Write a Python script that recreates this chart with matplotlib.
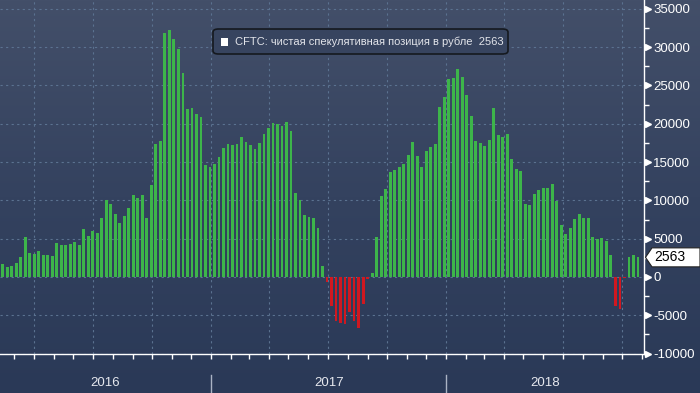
import matplotlib
matplotlib.use('Agg')
import matplotlib.pyplot as plt
import matplotlib.dates as mdates
import matplotlib.transforms as mtrans
from matplotlib.colors import LinearSegmentedColormap
from matplotlib.patches import FancyBboxPatch, Polygon, Rectangle
import numpy as np
import pandas as pd

plt.rcParams['axes.unicode_minus'] = False

# ---- data (thousands of contracts, weekly) ----
values_k = [
    1.7, 1.3, 1.4, 1.8, 2.6, 5.2, 3.1, 3.0, 3.4, 2.9, 2.9, 2.7, 4.4, 4.2, 4.2, 4.3, 4.6, 4.2, 6.3, 5.3,
    6.0, 5.7, 7.7, 10.0, 9.5, 8.2, 7.0, 8.0, 9.0,
    10.7, 10.3, 10.7, 7.7, 12.0, 17.4, 17.7, 31.9, 32.3, 31.1, 29.7, 26.6, 21.9, 22.0, 21.3, 20.9,
    14.6, 14.3, 14.7, 15.7, 16.8, 17.4, 17.2, 17.4, 18.3, 17.6, 17.2, 16.7,
    17.5, 18.7, 19.4, 20.1, 20.0, 19.7, 20.2, 19.0, 11.0, 10.0, 8.1, 7.8, 7.7, 6.4, 1.4,
    -0.6, -3.8, -5.8, -6.0, -6.2, -4.6, -5.7, -6.7, -3.5, -0.2,
    0.5, 5.2, 10.6, 11.5,
    13.7, 14.0, 14.3, 14.7, 15.9, 17.6, 15.8, 14.3, 16.4, 17.0, 17.3, 22.2, 23.5, 25.8, 26.0, 27.1,
    26.1, 23.7, 21.0, 17.7, 17.5, 17.1, 17.9, 22.0, 18.5, 18.3, 18.7, 15.4,
    14.1, 13.8, 9.5, 9.4, 10.8, 11.3, 11.6, 11.6, 12.1, 9.9, 6.8, 5.6, 6.4, 7.6, 8.2, 7.7, 7.7,
    5.2, 5.0, 5.1, 4.7, 2.9, -3.8, -4.2, -0.1, 2.6, 2.9, 2.563,
]
values = np.array(values_k) * 1000
first_date = '2016-02-12'
dates = pd.date_range(first_date, periods=len(values), freq='7D')
years = [2016, 2017, 2018]
yticks = list(range(-10000, 35001, 5000))
legend_label = 'CFTC: чистая спекулятивная позиция в рубле  2563'
last_value = 2563

# ---- style ----
GREEN = '#3db54a'
RED = '#d01820'
GRID = '#5b7290'
FONT = 'Liberation Sans'

W, H = 700, 393
fig = plt.figure(figsize=(W / 100, H / 100), dpi=100)

# background gradient
bg = fig.add_axes([0, 0, 1, 1])
bg.axis('off')
grad = np.linspace(0, 1, 256).reshape(-1, 1)
cmap = LinearSegmentedColormap.from_list('bg', ['#434f69', '#34425f', '#2a3957'])
bg.imshow(grad, aspect='auto', cmap=cmap, extent=[0, 1, 0, 1], origin='upper')
bg.set_xlim(0, 1)
bg.set_ylim(0, 1)

ax_bottom_px = 353.6
ax_right_px = 644
ax = fig.add_axes([0, (H - ax_bottom_px) / H, ax_right_px / W, ax_bottom_px / H])
ax.patch.set_alpha(0)

xnum = mdates.date2num(dates)
step = 7.0
x0 = xnum[0] - 0.6 * step
x1 = xnum[0] + 142.35 * step
ax.set_xlim(x0, x1)
ax.set_ylim(-10000, 36160)

colors = [GREEN if v >= 0 else RED for v in values]
ax.bar(xnum, values, width=0.62 * step, color=colors, linewidth=0, zorder=3)

# grid
ax.set_yticks(yticks)
ax.yaxis.grid(True, color=GRID, linestyle=(0, (2, 3)), linewidth=0.8, zorder=1)
qstarts = pd.date_range('2016-01-01', '2019-01-01', freq='QS')
for q in qstarts:
    qn = mdates.date2num(q)
    if x0 < qn < x1:
        ax.axvline(qn, color=GRID, linestyle=(0, (2, 3)), linewidth=0.8, zorder=1)

# spines
for s in ['top', 'left']:
    ax.spines[s].set_visible(False)
ax.spines['right'].set_color('white')
ax.spines['bottom'].set_color('white')
ax.spines['right'].set_linewidth(1)
ax.spines['bottom'].set_linewidth(1)

# x ticks: monthly marks, no labels
ax.xaxis.set_major_locator(mdates.MonthLocator())
ax.tick_params(axis='x', which='major', direction='out', length=3.5, width=1,
               color='white', labelbottom=False)

# y ticks on right
ax.yaxis.tick_right()
ax.set_yticks(np.arange(-7500, 36000, 5000), minor=True)
ax.tick_params(axis='y', which='major', length=0, pad=6.5, labelcolor='white',
               labelsize=9.5)
ax.tick_params(axis='y', which='minor', direction='out', length=3.5, width=1,
               color='white')
for lbl in ax.get_yticklabels():
    lbl.set_fontfamily(FONT)
ytr = ax.get_yaxis_transform()
ax.plot([1.0065] * len(yticks), yticks, linestyle='none', marker='>', ms=5,
        color='white', transform=ytr, clip_on=False, zorder=5)

# year labels and separators
xtr = ax.get_xaxis_transform()
for y in years:
    a = max(mdates.date2num(pd.Timestamp(f'{y}-01-01')), x0)
    b = min(mdates.date2num(pd.Timestamp(f'{y + 1}-01-01')), x1)
    ax.text((a + b) / 2, (10 - (H - ax_bottom_px)) / ax_bottom_px, str(y),
            transform=xtr, ha='center', va='center', color='#e6e8ee',
            fontsize=9.5, fontfamily=FONT, clip_on=False)
    if y > years[0]:
        ax.plot([a, a], [(18 - (H - ax_bottom_px)) / ax_bottom_px,
                         -(H - ax_bottom_px) / ax_bottom_px],
                transform=xtr, color='#aab3c4', lw=1, clip_on=False)

# last value tag
tagtr = mtrans.blended_transform_factory(ax.transAxes, ax.transData)
px = 1.0 / ax_right_px
hh = 9.5 / 7.66 * 1000
tag = Polygon([[645.5 * px, last_value], [652 * px, last_value + hh],
               [700 * px, last_value + hh], [700 * px, last_value - hh],
               [652 * px, last_value - hh]], closed=True, transform=tagtr,
              facecolor='white', edgecolor='#222222', lw=0.8, clip_on=False, zorder=6)
ax.add_patch(tag)
ax.text(654 * px, last_value, f'{last_value}', transform=tagtr, ha='left', va='center',
        color='black', fontsize=10, fontfamily=FONT, clip_on=False, zorder=7)

# legend box (manual)
lx0, lx1, ly0, ly1 = 213, 508, 29, 54
box = FancyBboxPatch((lx0 / W, (H - ly1) / H), (lx1 - lx0) / W, (ly1 - ly0) / H,
                     boxstyle='round,pad=0,rounding_size=0.008',
                     transform=fig.transFigure, facecolor='#37445f',
                     edgecolor='#15191f', lw=1.2, zorder=10)
fig.patches.append(box)
sq = Rectangle((221 / W, (H - 46) / H), 6.5 / W, 8.5 / H, transform=fig.transFigure,
               facecolor='white', edgecolor='none', zorder=11)
fig.patches.append(sq)
fig.text(235 / W, (H - 41.5) / H, legend_label, ha='left', va='center',
         color='#e2e4ea', fontsize=8, fontfamily=FONT, zorder=12)

fig.savefig('out.png', dpi=100)
